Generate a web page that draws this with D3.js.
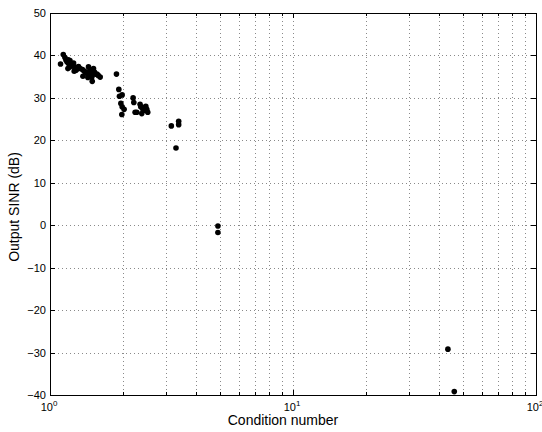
<!DOCTYPE html>
<html>
<head>
<meta charset="utf-8">
<script src="https://cdn.jsdelivr.net/npm/d3@7"></script>
<style>
  body { margin: 0; background: #fff; }
  svg text { font-family: "Liberation Sans", Arial, sans-serif; }
</style>
</head>
<body>
<div id="chart"></div>
<script>
// condition number vs output SINR (dB)
const condNumber = [
  1.105, 1.134, 1.152, 1.163, 1.174, 1.192, 1.189, 1.208, 1.220, 1.185,
  1.204, 1.231, 1.250, 1.262, 1.279, 1.258, 1.291, 1.310, 1.331, 1.361,
  1.383, 1.366, 1.400, 1.440, 1.463, 1.454, 1.473, 1.492, 1.510, 1.524,
  1.535, 1.560, 1.579, 1.609, 1.487, 1.427, 1.432,
  1.877, 1.920, 1.931, 1.981, 1.957, 1.981, 2.018, 1.975,
  2.198, 2.213, 2.240, 2.276, 2.348, 2.363, 2.386, 2.423, 2.446, 2.479,
  2.502, 2.525, 2.409,
  3.157, 3.385, 3.385, 3.300, 4.909, 4.909, 43.4, 46.1
];
const sinrDb = [
  38.0, 40.2, 39.5, 38.9, 38.5, 38.1, 39.0, 38.8, 38.1, 36.9,
  37.3, 37.6, 38.2, 37.3, 36.5, 36.3, 36.8, 37.4, 36.9, 36.7,
  36.3, 35.1, 36.1, 37.3, 36.7, 36.1, 35.3, 33.9, 36.9, 36.1,
  35.6, 35.6, 35.3, 34.9, 34.9, 35.6, 34.8,
  35.6, 32.0, 30.4, 30.7, 28.7, 27.9, 27.3, 26.1,
  30.0, 28.9, 26.6, 26.6, 28.5, 27.9, 26.3, 27.7, 27.1, 28.0,
  27.3, 26.6, 27.4,
  23.4, 24.5, 23.7, 18.2, -0.2, -1.7, -29.2, -39.2
];
const yTicks = [-40, -30, -20, -10, 0, 10, 20, 30, 40, 50];
const xMajor = [1, 10, 100];
const xExponents = ["0", "1", "2"];

const W = 542, H = 432;
const m = { left: 50, right: 6, top: 13, bottom: 37 };
const x0 = m.left, x1 = W - m.right, y0 = m.top, y1 = H - m.bottom;

const svg = d3.select("#chart").append("svg")
  .attr("width", W).attr("height", H);

const x = d3.scaleLog().domain([1, 100]).range([x0, x1]);
const y = d3.scaleLinear().domain([-40, 50]).range([y1, y0]);

const minor = [];
for (const d of [1, 10]) for (let k = 2; k <= 9; k++) minor.push(d * k);
const allX = xMajor.concat(minor);

// grid
const grid = svg.append("g")
  .attr("stroke", "#8a8a8a").attr("stroke-width", 1)
  .attr("stroke-dasharray", "1,3").attr("shape-rendering", "crispEdges");
grid.selectAll(".gx").data(allX.filter(d => d > 1 && d < 100)).join("line")
  .attr("x1", d => Math.round(x(d)) + 0.5).attr("x2", d => Math.round(x(d)) + 0.5)
  .attr("y1", y0).attr("y2", y1);
grid.selectAll(".gy").data(yTicks.filter(d => d > -40 && d < 50)).join("line")
  .attr("y1", d => Math.round(y(d)) + 0.5).attr("y2", d => Math.round(y(d)) + 0.5)
  .attr("x1", x0).attr("x2", x1);

// ticks inside the box
const ticks = svg.append("g").attr("stroke", "#000").attr("stroke-width", 1)
  .attr("shape-rendering", "crispEdges");
const tlen = d => xMajor.includes(d) ? 5 : 3;
ticks.selectAll(".tb").data(allX).join("line")
  .attr("x1", d => Math.round(x(d)) + 0.5).attr("x2", d => Math.round(x(d)) + 0.5)
  .attr("y1", y1).attr("y2", d => y1 - tlen(d));
ticks.selectAll(".tt").data(allX).join("line")
  .attr("x1", d => Math.round(x(d)) + 0.5).attr("x2", d => Math.round(x(d)) + 0.5)
  .attr("y1", y0).attr("y2", d => y0 + tlen(d));
ticks.selectAll(".tl").data(yTicks).join("line")
  .attr("y1", d => Math.round(y(d)) + 0.5).attr("y2", d => Math.round(y(d)) + 0.5)
  .attr("x1", x0).attr("x2", x0 + 5);
ticks.selectAll(".tr").data(yTicks).join("line")
  .attr("y1", d => Math.round(y(d)) + 0.5).attr("y2", d => Math.round(y(d)) + 0.5)
  .attr("x1", x1).attr("x2", x1 - 5);

// box
svg.append("rect")
  .attr("x", x0 + 0.5).attr("y", y0 + 0.5)
  .attr("width", x1 - x0).attr("height", y1 - y0)
  .attr("fill", "none").attr("stroke", "#000").attr("stroke-width", 1.5)
  .attr("shape-rendering", "crispEdges");

// points
svg.append("g").selectAll("circle")
  .data(condNumber.map((c, i) => [c, sinrDb[i]]))
  .join("circle")
  .attr("cx", d => x(d[0])).attr("cy", d => y(d[1]))
  .attr("r", 2.8).attr("fill", "#000");

// y tick labels
svg.append("g").selectAll("text").data(yTicks).join("text")
  .attr("x", x0 - 4).attr("y", d => y(d) + 4)
  .attr("text-anchor", "end").attr("font-size", 11)
  .text(d => d < 0 ? "\u2212" + Math.abs(d) : d);

// x tick labels 10^n
const xl = svg.append("g").selectAll("text").data(xMajor).join("text")
  .attr("x", d => x(d) - 1).attr("y", y1 + 16)
  .attr("text-anchor", "middle").attr("font-size", 11);
xl.append("tspan").text("10");
xl.append("tspan").attr("dy", -5).attr("font-size", 8)
  .text((d, i) => xExponents[i]);

// axis titles
svg.append("text").attr("x", (x0 + x1) / 2 - 10).attr("y", 425)
  .attr("text-anchor", "middle").attr("font-size", 14)
  .text("Condition number");
svg.append("text")
  .attr("transform", `translate(19,${(y0 + y1) / 2 + 3}) rotate(-90)`)
  .attr("text-anchor", "middle").attr("font-size", 14)
  .text("Output SINR (dB)");
</script>
</body>
</html>
